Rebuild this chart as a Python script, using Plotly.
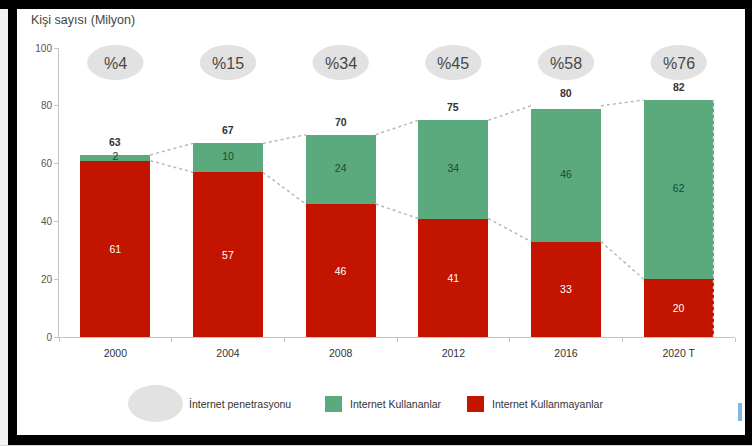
import plotly.graph_objects as go

# ---------------- data ----------------
years = ["2000", "2004", "2008", "2012", "2016", "2020 T"]
users = [2, 10, 24, 34, 46, 62]            # İnternet Kullananlar
non_users = [61, 57, 46, 41, 33, 20]       # İnternet Kullanmayanlar
totals = [63, 67, 70, 75, 80, 82]
penetration = [4, 15, 34, 45, 58, 76]      # % İnternet penetrasyonu
y_ticks = [0, 20, 40, 60, 80, 100]

# ---------------- style ----------------
W, H = 752, 446
ML, MR, MT, MB = 59, 17, 48, 109
PW, PH = W - ML - MR, H - MT - MB
GREEN = "#5aaa7e"
RED = "#c31400"
FONT = "Liberation Sans"
BAR_W = 0.62
HW = BAR_W / 2
N = len(years)


def px_x(p):
    return (p - ML) / PW


def px_y(p):
    return (H - MB - p) / PH


fig = go.Figure()

fig.add_trace(go.Bar(
    x=years, y=non_users, name="Internet Kullanmayanlar",
    marker=dict(color=RED, line=dict(width=0)), width=BAR_W,
    text=[str(v) for v in non_users], textposition="inside",
    insidetextanchor="middle", constraintext="none",
    textfont=dict(color="white", size=10.5, family=FONT),
    showlegend=False, hoverinfo="skip",
))
fig.add_trace(go.Bar(
    x=years, y=users, name="Internet Kullananlar",
    marker=dict(color=GREEN, line=dict(width=0)), width=BAR_W,
    textposition="none",
    showlegend=False, hoverinfo="skip",
))
# labels of green segments (centre of each stacked segment)
fig.add_trace(go.Scatter(
    x=years, y=[n + u / 2 for n, u in zip(non_users, users)],
    mode="text", text=[str(v) for v in users], textposition="middle center",
    textfont=dict(color="#1d4a2c", size=10.5, family=FONT),
    showlegend=False, hoverinfo="skip", cliponaxis=False,
))
# totals above bars (numeric overlay axis: category index)
for i, tot in enumerate(totals):
    fig.add_annotation(x=i, y=tot, xref="x2", yref="y",
                       text=f"<b>{tot}</b>", showarrow=False,
                       xanchor="center", yanchor="bottom", yshift=5,
                       font=dict(color="#333333", size=10.5, family=FONT))


# dashed connectors (numeric overlay axis)
def connector(vals):
    xs, ys = [], []
    for i in range(N - 1):
        xs += [i + HW, i + 1 - HW, None]
        ys += [vals[i], vals[i + 1], None]
    return xs, ys


for vals in (totals, non_users):
    cx, cy = connector(vals)
    fig.add_trace(go.Scatter(
        x=cx, y=cy, xaxis="x2", yaxis="y", mode="lines",
        line=dict(color="#b9b9b9", width=1.5, dash="dot"),
        showlegend=False, hoverinfo="skip",
    ))

# forecast bar dashed right edge
fig.add_shape(type="line", xref="x2", yref="y",
              x0=N - 1 + HW, x1=N - 1 + HW, y0=0, y1=totals[-1],
              line=dict(color="#d5d5d5", width=1.5, dash="dot"))

# frame (black border of screenshot)
fig.add_shape(type="rect", xref="paper", yref="paper", layer="below",
              x0=px_x(17), x1=px_x(745), y0=px_y(435), y1=px_y(9),
              fillcolor="white", line=dict(width=0))
fig.add_shape(type="rect", xref="paper", yref="paper", layer="below",
              x0=px_x(0), x1=px_x(8), y0=px_y(446), y1=px_y(9),
              fillcolor="#f2f2f2", line=dict(width=0))
fig.add_shape(type="rect", xref="paper", yref="paper", layer="below",
              x0=px_x(0), x1=px_x(752), y0=px_y(446), y1=px_y(445),
              fillcolor="#d8d8d8", line=dict(width=0))
fig.add_shape(type="rect", xref="paper", yref="paper",
              x0=px_x(738), x1=px_x(742), y0=px_y(421), y1=px_y(403),
              fillcolor="#7fb8e4", line=dict(width=0))

# penetration ellipses
for i, p in enumerate(penetration):
    cxp = (i + 0.5) / N
    fig.add_shape(type="circle", xref="paper", yref="paper", layer="below",
                  x0=cxp - 0.25 / N, x1=cxp + 0.25 / N,
                  y0=px_y(80), y1=px_y(45),
                  fillcolor="#e2e2e2", line=dict(width=0))
    fig.add_annotation(x=cxp, y=px_y(63), xref="paper", yref="paper",
                       text=f"%{p}", showarrow=False,
                       xanchor="center", yanchor="middle",
                       font=dict(size=16, color="#484848", family=FONT))

# axis title
fig.add_annotation(x=px_x(29), y=px_y(20), xref="paper", yref="paper",
                   text="Kişi sayısı (Milyon)", showarrow=False,
                   xanchor="left", yanchor="middle",
                   font=dict(size=12.5, color="#444444", family=FONT))

# manual legend
LEG_Y = px_y(404)
fig.add_shape(type="circle", xref="paper", yref="paper",
              x0=px_x(128), x1=px_x(183), y0=px_y(422), y1=px_y(385),
              fillcolor="#e2e2e2", line=dict(width=0))
fig.add_annotation(x=px_x(187), y=LEG_Y, xref="paper", yref="paper",
                   text="İnternet penetrasyonu", showarrow=False,
                   xanchor="left", yanchor="middle",
                   font=dict(size=10.5, color="#333333", family=FONT))
fig.add_shape(type="rect", xref="paper", yref="paper",
              x0=px_x(325), x1=px_x(342), y0=px_y(412), y1=px_y(396),
              fillcolor=GREEN, line=dict(width=0))
fig.add_annotation(x=px_x(348), y=LEG_Y, xref="paper", yref="paper",
                   text="Internet Kullananlar", showarrow=False,
                   xanchor="left", yanchor="middle",
                   font=dict(size=10.5, color="#333333", family=FONT))
fig.add_shape(type="rect", xref="paper", yref="paper",
              x0=px_x(467), x1=px_x(484), y0=px_y(412), y1=px_y(396),
              fillcolor=RED, line=dict(width=0))
fig.add_annotation(x=px_x(490), y=LEG_Y, xref="paper", yref="paper",
                   text="Internet Kullanmayanlar", showarrow=False,
                   xanchor="left", yanchor="middle",
                   font=dict(size=10.5, color="#333333", family=FONT))

fig.update_layout(
    width=W, height=H,
    margin=dict(l=ML, r=MR, t=MT, b=MB, pad=0),
    paper_bgcolor="black", plot_bgcolor="white",
    barmode="stack", bargap=1 - BAR_W,
    showlegend=False,
    font=dict(family=FONT, color="#444444"),
    xaxis=dict(
        type="category", categoryorder="array", categoryarray=years,
        range=[-0.5, N - 0.5],
        showline=True, linecolor="#c4c4c4", linewidth=1,
        ticks="outside", tickson="boundaries", ticklen=4, tickcolor="#c4c4c4",
        tickfont=dict(size=10.5, color="#333333", family=FONT),
        ticklabelstandoff=6, showgrid=False, zeroline=False, fixedrange=True,
    ),
    xaxis2=dict(overlaying="x", range=[-0.5, N - 0.5], visible=False,
                fixedrange=True),
    yaxis=dict(
        range=[0, 100], tickvals=y_ticks,
        showline=True, linecolor="#c4c4c4", linewidth=1,
        ticks="outside", ticklen=4, tickcolor="#c4c4c4",
        tickfont=dict(size=10, color="#555555", family=FONT),
        showgrid=False, zeroline=False, fixedrange=True,
    ),
)

fig.write_html(
    "out.html",
    config={"displayModeBar": False},
    post_script="document.body.style.margin='0';document.body.style.overflow='hidden';",
)
